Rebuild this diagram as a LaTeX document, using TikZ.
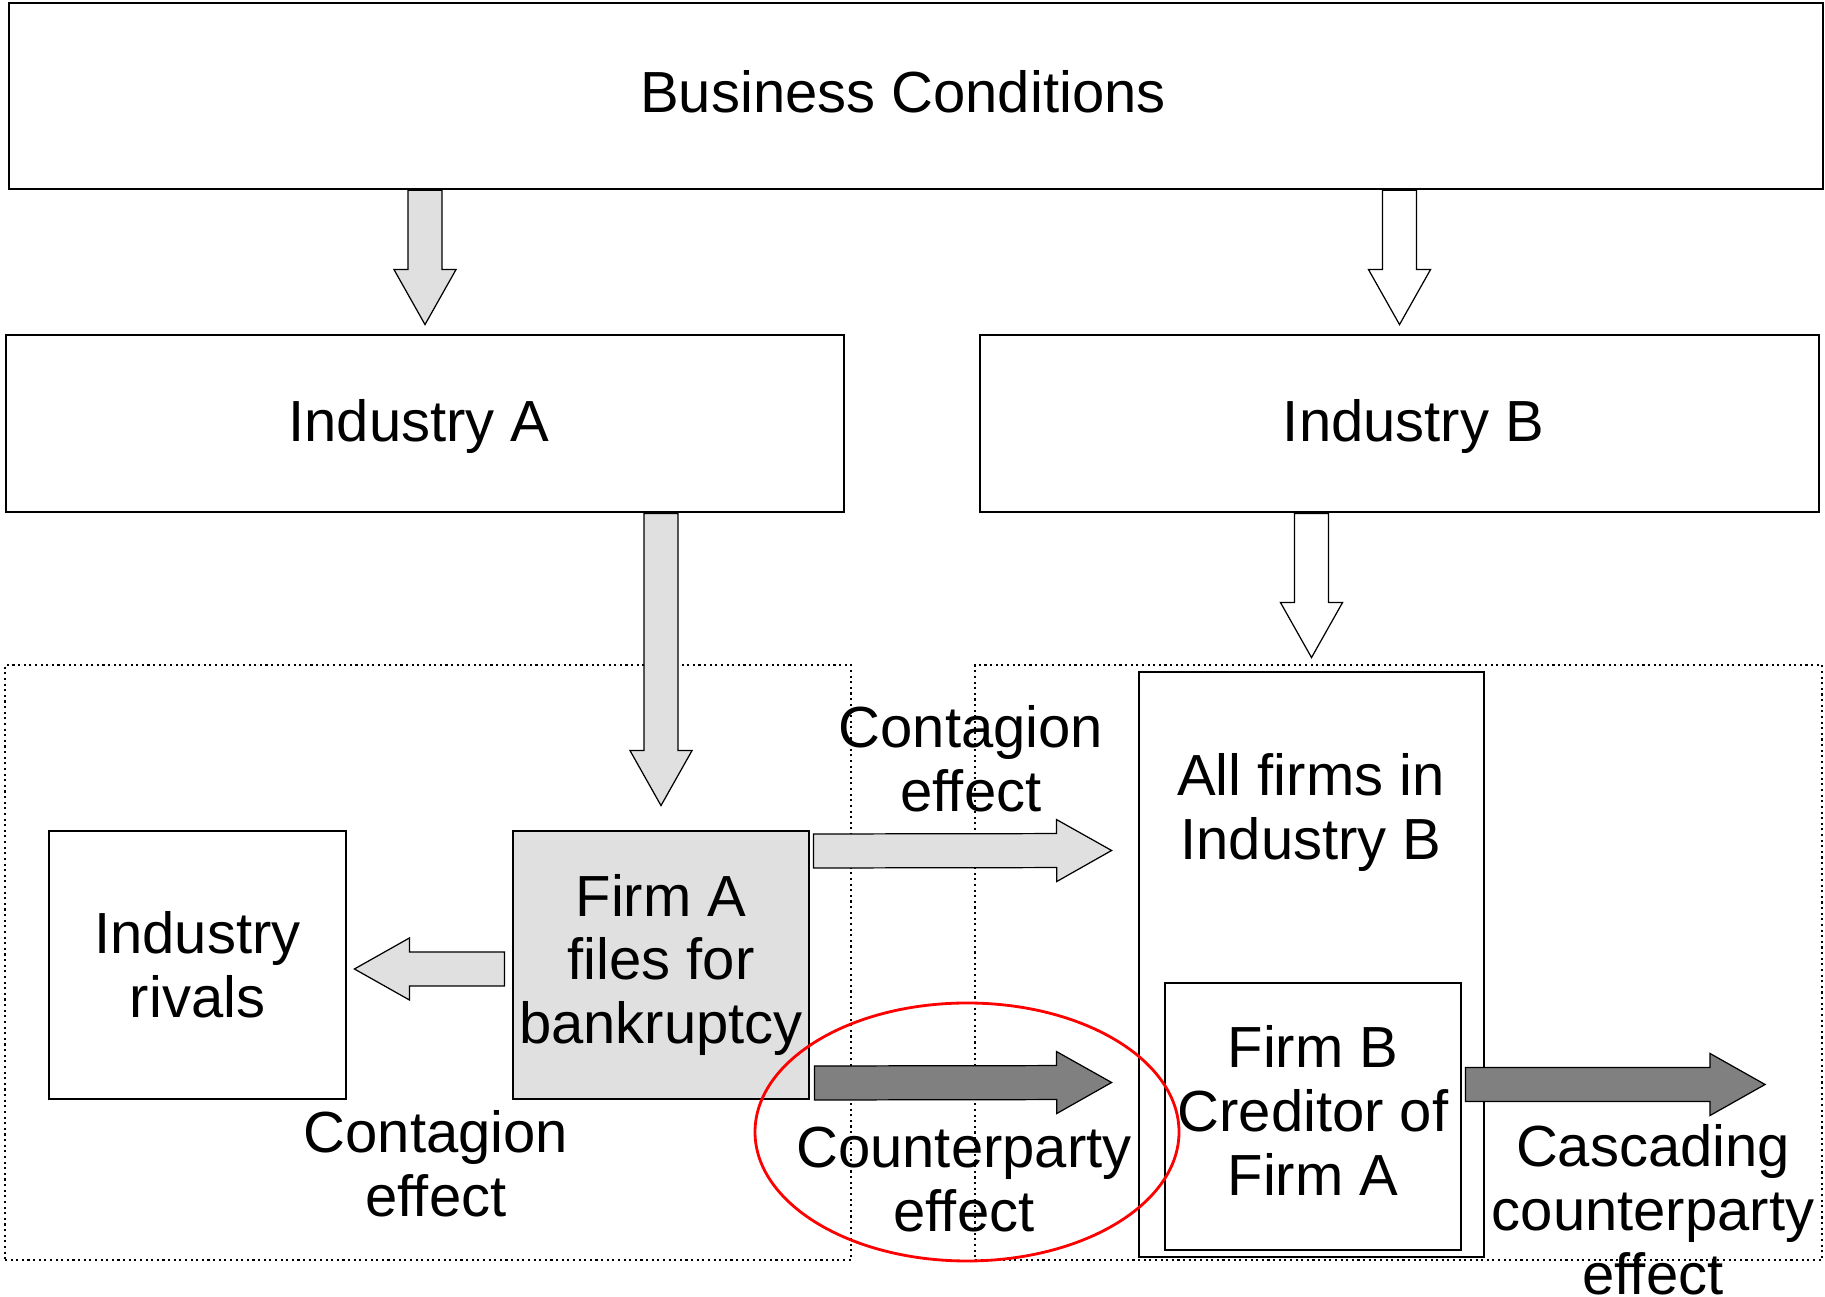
\documentclass[tikz,border=0pt]{standalone}
\usepackage{fontspec}
\setmainfont{Liberation Sans}
\usetikzlibrary{calc}
\definecolor{boxgray}{HTML}{E0E0E0}
\definecolor{arrgray}{HTML}{808080}
\tikzset{
    % boxes, dotted groups and free labels
    mybox/.style={draw, line width=0.8pt, align=center, inner sep=0pt},
    mygrp/.style={draw, densely dotted, line width=0.6pt, inner sep=0pt},
    mylab/.style={align=center, inner sep=0pt},
    % block arrow, drawn from its tail to its tip
    myarr/.style={draw, line width=0.35pt, to path={
        let \p1=(\tikztostart), \p2=(\tikztotarget),
            \n1={atan2(\y2-\y1,\x2-\x1)}, \n2={veclen(\x2-\x1,\y2-\y1)}
        in {[shift={(\p1)}, rotate=\n1]
            (0pt,-0.17cm) -- ({\n2-0.55cm},-0.17cm) -- ({\n2-0.55cm},-0.31cm)
            -- (\n2,0pt) -- ({\n2-0.55cm},0.31cm) -- ({\n2-0.55cm},0.17cm)
            -- (0pt,0.17cm) -- cycle}}},
}

\begin{document}
\begin{tikzpicture}[font=\fontsize{16.5}{18.2}\selectfont]
    \useasboundingbox (0,0) rectangle (18.25,12.97);
    % conditions and industries
    \node (bc) at (9.16,12.01) [mybox, minimum width=18.14cm, minimum height=1.86cm,
        label={[mylab, xshift=-0.13cm, yshift=0.04cm]center:Business Conditions}] {};
    \node (indA) at (4.25,8.735) [mybox, minimum width=8.38cm, minimum height=1.77cm,
        label={[mylab, xshift=-0.06cm, yshift=-0.035cm]center:Industry A}] {};
    \node (indB) at (13.995,8.735) [mybox, minimum width=8.39cm, minimum height=1.77cm,
        label={[mylab, xshift=0.14cm, yshift=-0.035cm]center:Industry B}] {};

    % dotted groups
    \node (grpA) at (4.28,3.345) [mygrp, minimum width=8.46cm, minimum height=5.95cm] {};
    \node (grpB) at (13.985,3.345) [mygrp, minimum width=8.47cm, minimum height=5.95cm] {};

    % firms
    \node (rivals) at (1.975,3.32) [mybox, minimum width=2.97cm, minimum height=2.68cm] {Industry\\rivals};
    \node (firmA) at (6.61,3.32) [mybox, fill=boxgray, minimum width=2.96cm, minimum height=2.68cm] {Firm A\\files for\\bankruptcy};
    \node (allB) at (13.115,3.325) [mybox, minimum width=3.45cm, minimum height=5.85cm] {};
    \node (allBtxt) at (13.11,4.84) [mylab] {All firms in\\Industry B};
    \node (firmB) at (13.13,1.805) [mybox, minimum width=2.96cm, minimum height=2.67cm,
        label={[mylab, yshift=0.06cm]center:Firm B\\Creditor of\\Firm A}] {};

    % ARROWS
    \draw[myarr, fill=boxgray] (bc.south -| indA) to ([yshift=0.09cm]indA.north);
    \draw[myarr, fill=white] (bc.south -| indB) to ([yshift=0.09cm]indB.north);
    \draw[myarr, fill=boxgray] (indA.south -| firmA) to ([yshift=0.24cm]firmA.north);
    \draw[myarr, fill=white] (indB.south -| allB) to ([yshift=0.13cm]allB.north);
    \draw[myarr, fill=boxgray] ([xshift=0.03cm,yshift=1.14cm]firmA.east) to ([xshift=-0.26cm,yshift=1.14cm]allB.west);
    \draw[myarr, fill=boxgray] ([xshift=-0.07cm,yshift=-0.04cm]firmA.west) to ([xshift=0.07cm,yshift=-0.04cm]rivals.east);
    \draw[myarr, fill=arrgray] ([xshift=0.04cm,yshift=-1.18cm]firmA.east) to ([xshift=-0.26cm,yshift=-1.18cm]allB.west);
    \draw[myarr, fill=arrgray] ([xshift=0.03cm,yshift=0.32cm]firmB.east) to ([xshift=-0.58cm,yshift=-1.22cm]grpB.east);

    % effect labels
    \node (labTop) at (9.71,5.38) [mylab] {Contagion\\effect};
    \node (labLeft) at (4.36,1.33) [mylab] {Contagion\\effect};
    \node (labCp) at (9.64,1.17) [mylab] {Counterparty\\effect};
    \node (labCasc) at (16.53,0.87) [mylab] {Cascading\\counterparty\\effect};

    % highlight
    \draw[red, line width=0.8pt] (9.67,1.65) ellipse (2.12 and 1.29);
\end{tikzpicture}
\end{document}
